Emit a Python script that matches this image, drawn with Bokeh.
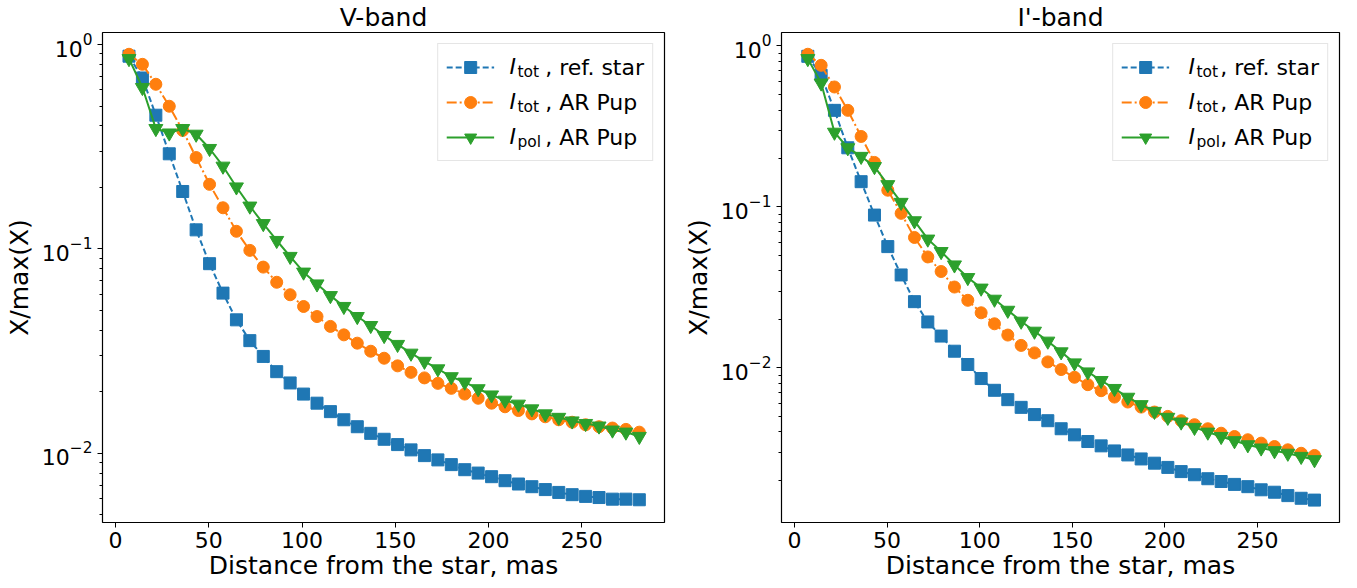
from bokeh.plotting import figure
from bokeh.models import Range1d, Legend, LegendItem, Label
from bokeh.layouts import row
from bokeh.embed import file_html
from bokeh.resources import INLINE

# ---- data ----
distance = [7.2, 14.4, 21.6, 28.8, 36.0, 43.2, 50.4, 57.6, 64.8, 72.0,
            79.2, 86.4, 93.6, 100.8, 108.0, 115.2, 122.4, 129.6, 136.8, 144.0,
            151.2, 158.4, 165.6, 172.8, 180.0, 187.2, 194.4, 201.6, 208.8, 216.0,
            223.2, 230.4, 237.6, 244.8, 252.0, 259.2, 266.4, 273.6, 280.8]

v_ref = [0.877, 0.686, 0.451, 0.292, 0.191, 0.124, 0.0847, 0.0608, 0.0450, 0.0356,
         0.0298, 0.0251, 0.0221, 0.0195, 0.0176, 0.0160, 0.0146, 0.0135, 0.01253, 0.01172,
         0.01104, 0.0104, 0.00975, 0.00929, 0.00881, 0.00832, 0.00801, 0.00769, 0.00735, 0.00708,
         0.00687, 0.00665, 0.00644, 0.00628, 0.00616, 0.00608, 0.00597, 0.00597, 0.00593]
v_tot = [0.896, 0.80, 0.639, 0.499, 0.380, 0.280, 0.207, 0.159, 0.122, 0.0984,
         0.0815, 0.0687, 0.0597, 0.0523, 0.0467, 0.0418, 0.0380, 0.0346, 0.0316, 0.0292,
         0.0268, 0.0249, 0.0234, 0.0220, 0.0208, 0.0195, 0.0186, 0.0176, 0.0169, 0.0162,
         0.0156, 0.0151, 0.0146, 0.0142, 0.0138, 0.0135, 0.0133, 0.0131, 0.0127]
v_pol = [0.853, 0.616, 0.388, 0.369, 0.388, 0.364, 0.310, 0.254, 0.201, 0.162,
         0.133, 0.110, 0.0919, 0.0770, 0.0674, 0.0591, 0.0523, 0.0467, 0.0422, 0.0377,
         0.0341, 0.0309, 0.0282, 0.0259, 0.0237, 0.0223, 0.0207, 0.0193, 0.0182, 0.0174,
         0.0165, 0.0156, 0.0150, 0.0144, 0.0140, 0.0136, 0.0130, 0.0127, 0.0121]

i_ref = [0.862, 0.657, 0.398, 0.233, 0.1435, 0.0890, 0.0567, 0.0378, 0.0258, 0.0193,
         0.01577, 0.0127, 0.0105, 0.00859, 0.00726, 0.00635, 0.00569, 0.00513, 0.00470, 0.00419,
         0.00384, 0.00349, 0.00328, 0.00305, 0.00288, 0.00272, 0.00256, 0.00241, 0.00227, 0.00217,
         0.00205, 0.00197, 0.00189, 0.00183, 0.00175, 0.00169, 0.00161, 0.00155, 0.00151]
i_tot = [0.888, 0.758, 0.556, 0.398, 0.274, 0.189, 0.127, 0.0912, 0.0646, 0.0489,
         0.0397, 0.0318, 0.0263, 0.0220, 0.0188, 0.0160, 0.0138, 0.0124, 0.0109, 0.00977,
         0.00875, 0.00787, 0.00722, 0.00659, 0.00614, 0.00571, 0.00532, 0.00500, 0.00470, 0.00444,
         0.00419, 0.00393, 0.00375, 0.00358, 0.00341, 0.00325, 0.00310, 0.00295, 0.00286]
i_pol = [0.834, 0.588, 0.291, 0.233, 0.206, 0.178, 0.1375, 0.1067, 0.0820, 0.0631,
         0.0528, 0.0436, 0.0364, 0.0313, 0.0267, 0.0228, 0.0195, 0.0169, 0.01466, 0.01258,
         0.01074, 0.00944, 0.00835, 0.00745, 0.00657, 0.00591, 0.00537, 0.00493, 0.00461, 0.00427,
         0.00399, 0.00375, 0.00353, 0.00333, 0.00318, 0.00306, 0.00295, 0.00282, 0.00269]

titles = ["V-band", "I'-band"]
legend_symbol = "I"
legend_subscripts = ["tot", "tot", "pol"]
legend_rest = [", ref. star", ", AR Pup", ", AR Pup"]
x_label = "Distance from the star, mas"
y_label = "X/max(X)"

BLUE, ORANGE, GREEN = "#1f77b4", "#ff7f0e", "#2ca02c"
FONT = "DejaVu Sans"

ROW_Y = [456, 421, 386]  # legend row centres, px above frame bottom
I_X = 407                # px from frame left


def make_panel(title, ref, tot, pol, y_lo, y_hi, width, bl, br):
    p = figure(width=width, height=588, y_axis_type="log",
               x_range=Range1d(-7.0, 294.3), y_range=Range1d(y_lo, y_hi),
               output_backend="svg", toolbar_location=None,
               min_border_left=bl, min_border_right=br,
               min_border_top=32, min_border_bottom=66)
    p.title.text = title
    p.title.align = "center"
    p.title.text_font = FONT
    p.title.text_font_size = "25px"
    p.title.text_font_style = "normal"
    p.title.text_color = "black"
    p.title.standoff = 1

    l1 = p.line(distance, ref, color=BLUE, line_width=2, line_dash="6 3")
    s1 = p.scatter(distance, ref, marker="square", size=12, color=BLUE)
    l2 = p.line(distance, tot, color=ORANGE, line_width=2, line_dash="10 3 2 3")
    s2 = p.scatter(distance, tot, marker="circle", size=12, color=ORANGE)
    l3 = p.line(distance, pol, color=GREEN, line_width=2)
    s3 = p.scatter(distance, pol, marker="inverted_triangle", size=14, color=GREEN)

    p.xgrid.visible = False
    p.ygrid.visible = False
    p.outline_line_color = "black"
    p.outline_line_width = 1.2
    p.background_fill_color = "white"
    p.border_fill_color = "white"

    for ax in (p.xaxis[0], p.yaxis[0]):
        ax.axis_line_color = None
        ax.major_tick_line_color = "black"
        ax.minor_tick_line_color = "black"
        ax.major_tick_in = 0
        ax.major_tick_out = 5
        ax.minor_tick_in = 0
        ax.minor_tick_out = 3
        ax.major_label_text_font = FONT
        ax.major_label_text_font_size = "22px"
        ax.major_label_text_color = "black"
        ax.axis_label_text_font = FONT
        ax.axis_label_text_font_size = "25px"
        ax.axis_label_text_font_style = "normal"
        ax.axis_label_text_color = "black"
    p.xaxis[0].axis_label = x_label
    p.yaxis[0].axis_label = y_label
    p.xaxis[0].ticker = [0, 50, 100, 150, 200, 250]
    p.xaxis[0].minor_tick_out = 0
    p.xaxis[0].major_label_standoff = 4
    p.xaxis[0].axis_label_standoff = 0
    p.yaxis[0].major_label_standoff = 5
    p.yaxis[0].axis_label_standoff = 5

    items = [LegendItem(label=legend_rest[0], renderers=[l1, s1]),
             LegendItem(label=legend_rest[1], renderers=[l2, s2]),
             LegendItem(label=legend_rest[2], renderers=[l3, s3])]
    lg = Legend(items=items, location="top_right", margin=11, padding=8, spacing=5,
                glyph_width=48, glyph_height=30, label_height=30, label_standoff=51,
                label_text_font=FONT, label_text_font_size="22px", label_text_color="black",
                border_line_color="#cccccc", border_line_width=1,
                background_fill_color=None)
    p.add_layout(lg)

    for yc, sub in zip(ROW_Y, legend_subscripts):
        p.add_layout(Label(x=I_X, y=yc, x_units="screen", y_units="screen",
                           text=legend_symbol, text_font=FONT, text_font_style="italic",
                           text_font_size="22px", text_baseline="middle", text_align="left",
                           text_color="black", level="overlay"))
        p.add_layout(Label(x=I_X + 8, y=yc - 5, x_units="screen", y_units="screen",
                           text=sub, text_font=FONT, text_font_size="15.5px",
                           text_baseline="middle", text_align="left", text_color="black",
                           level="overlay"))
    return p


p1 = make_panel(titles[0], v_ref, v_tot, v_pol, 0.00459, 1.145, 680, 102, 16)
p2 = make_panel(titles[1], i_ref, i_tot, i_pol, 0.001096, 1.212, 677, 97, 18)

layout = row(p1, p2)
open("out.html", "w").write(file_html(layout, INLINE))
